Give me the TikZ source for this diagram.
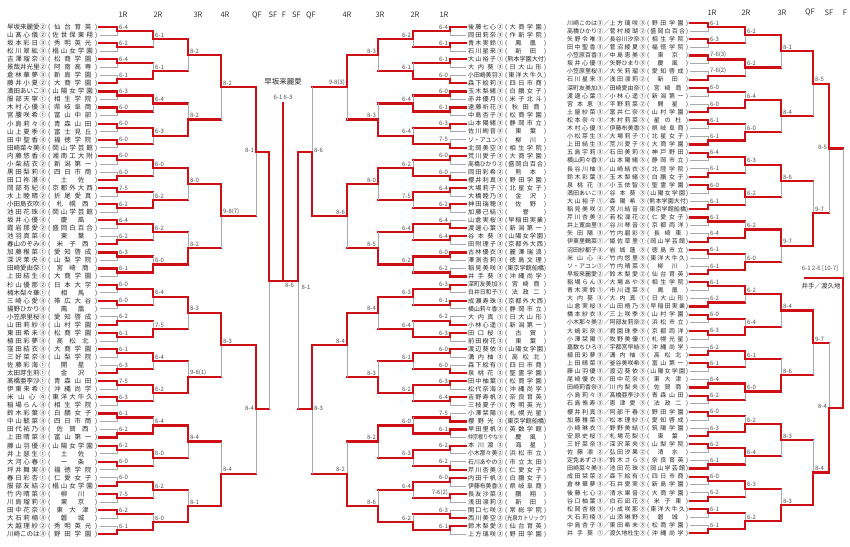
\documentclass[tikz,border=0pt]{standalone}
\usepackage{fontspec}
\usepackage{graphicx}
\setmainfont{Noto Sans CJK JP}
\definecolor{wr}{RGB}{206,16,22}
\definecolor{lg}{RGB}{170,170,170}
\definecolor{tx}{RGB}{40,40,40}
\makeatletter
\def\dist#1{\dist@a#1\relax}
\def\dist@a#1{\ifx#1\relax\else#1\expandafter\dist@b\fi}
\def\dist@b#1{\ifx#1\relax\else\hfil#1\expandafter\dist@b\fi}
\makeatother
\newsavebox\fitbx
\newcommand\fitw[2]{\sbox\fitbx{#2}\ifdim\wd\fitbx>#1\relax\resizebox{#1}{\height}{#2}\else\hbox to #1{\dist{#2}}\fi}
\tikzset{
 win/.style={draw=wr,line width=2.2pt,line cap=rect,line join=miter},
 lose/.style={draw=lg,line width=0.65pt},
 sc/.style={font=\fontsize{6}{6}\selectfont,text=black!70,inner sep=0.4pt},
 hd/.style={font=\fontsize{7.5}{8}\selectfont,text=black!80,inner sep=0},
 nmL/.style={font=\fontsize{6.5}{7}\selectfont,text=tx,inner sep=0,anchor=base west},
 nmM/.style={font=\fontsize{6.2}{7}\selectfont,text=tx,inner sep=0,anchor=base west},
 nmR/.style={font=\fontsize{6}{7}\selectfont,text=tx,inner sep=0,anchor=base west},
}
% first round: #1 prefix, #2 xs, #3 x1, #4 x2, #5 anchor, #6 dx, #7 list
\newcommand\blevone[7]{%
\foreach \w/\s [count=\m from 0] in {#7}{%
 \pgfmathsetmacro\ya{\Yz+2*\m*\dd}%
 \pgfmathsetmacro\yb{\ya+\dd}%
 \pgfmathsetmacro\ym{\ya+0.5*\dd}%
 \ifnum\w=0\relax
  \draw[lose] (#2,\yb) -- (#3,\yb) -- (#3,\ym);
  \draw[win] (#2,\ya) -- (#3,\ya) -- (#3,\ym) -- (#4,\ym);
 \else
  \draw[lose] (#2,\ya) -- (#3,\ya) -- (#3,\ym);
  \draw[win] (#2,\yb) -- (#3,\yb) -- (#3,\ym) -- (#4,\ym);
 \fi
 \node[sc,anchor=#5] (#1s\m) at ({#3+(#6)},{\ym-1.2}) {\s};
}}
% later rounds: #1 prefix, #2 level, #3 xL, #4 xnext, #5 anchor, #6 dx, #7 list
\newcommand\blev[7]{%
\foreach \w/\s [count=\m from 0] in {#7}{%
 \pgfmathsetmacro\ya{\Yz+(\m*2^#2+(2^(#2-1)-1)/2)*\dd}%
 \pgfmathsetmacro\yb{\ya+2^(#2-1)*\dd}%
 \pgfmathsetmacro\ym{(\ya+\yb)/2}%
 \ifnum\w=0\relax
  \draw[lose] (#3,\ym) -- (#3,\yb);
  \draw[win] (#3,\ya) -- (#3,\ym) -- (#4,\ym);
 \else
  \draw[lose] (#3,\ya) -- (#3,\ym);
  \draw[win] (#3,\yb) -- (#3,\ym) -- (#4,\ym);
 \fi
 \node[sc,anchor=#5] (#1s\m) at ({#3+(#6)},{\ym-1.2}) {\s};
}}
\newcommand\LN[3]{\node[nmL] (ln#1) at (7,{27+#1*8.05+2.4}) {\fitw{39pt}{#2}};\node[nmL] (ls#1) at (48,{27+#1*8.05+2.4}) {\fitw{49pt}{(#3)}};}
\newcommand\MN[3]{\node[nmM] (mn#1) at (468,{27+#1*8.05+2.3}) {\fitw{35pt}{#2}};\node[nmM] (ms#1) at (505,{27+#1*8.05+2.3}) {\fitw{41pt}{(#3)}};}
\newcommand\RN[4]{\node[nmR] (ra#1) at (567,{23+#1*8.1+2.2}) {\fitw{36pt}{#2}};\node[nmR] (rb#1) at (603.3,{23+#1*8.1+2.2}) {／};\node[nmR] (rc#1) at (609.5,{23+#1*8.1+2.2}) {\fitw{36pt}{#3}};\node[nmR] (rd#1) at (647,{23+#1*8.1+2.2}) {\fitw{41pt}{(#4)}};}
\begin{document}
\begin{tikzpicture}[x=1pt,y=-1pt]
\fill[white] (0,0) rectangle (850,546);
\useasboundingbox (0,0) rectangle (850,546);
% headers
\foreach \t/\x [count=\i] in {1R/123,2R/158,3R/198,4R/225,QF/257,SF/273,F/284,SF/296.5,QF/311,4R/347,3R/380,2R/415,1R/444}{\node[hd] (h\i) at (\x,15) {\t};}
\foreach \t/\x [count=\i] in {1R/712,2R/746,3R/782,QF/810,SF/829,F/845}{\node[hd] (hr\i) at (\x,12.7) {\t};}
% ===== left half of singles =====
\def\Yz{27}\def\dd{8.05}
\blevone{La}{99.5}{117}{153}{south west}{1.5}{0/6-4,0/6-2,0/6-4,1/6-1,0/6-3,0/6-0,0/6-0,0/6-0,0/6-0,1/6-0,0/7-5,0/6-2,0/6-4,1/6-2,0/6-3,0/6-1,0/6-0,0/6-0,1/6-2,0/6-1,0/6-1,1/6-3,0/7-5,0/6-3,0/6-1,1/6-2,0/6-2,0/6-0,1/6-0,0/7-5,0/6-2,1/6-1}
\blev{Lb}{2}{153}{188}{south west}{1.5}{0/6-1,1/6-1,0/6-4,0/6-3,0/6-0,1/6-2,0/6-2,1/6-0,0/6-4,1/7-5,0/6-4,0/6-2,1/6-4,0/6-0,0/6-2,1/6-0}
\blev{Lc}{3}{188}{221}{south west}{1.5}{0/8-2,1/8-2,0/8-0,1/8-2,0/8-3,1/9-8(1),0/8-4,1/8-1}
\blev{Ld}{4}{221}{256}{south west}{1.5}{0/8-2,0/9-8(7),0/8-3,1/8-4}
\blev{Le}{5}{256}{269}{east}{-1.5}{0/8-1,0/8-4}
% SF left: vertical and output
\draw[lose] (269,280.6) -- (269,409.4);
\draw[win] (269,151.8) -- (269,280.6) -- (283,280.6);
% ===== right half of singles (mirrored) =====
\blevone{Ma}{466}{450}{413}{south east}{-1.5}{0/6-4,0/6-1,0/6-1,1/6-0,0/6-0,0/6-1,0/6-3,1/7-5,0/6-0,1/6-0,0/6-4,0/6-2,1/6-4,0/6-4,0/6-0,1/6-2,0/6-3,0/6-1,1/6-2,0/6-3,0/6-0,1/6-0,0/6-3,0/6-4,1/7-5,0/6-1,0/6-2,1/6-2,0/6-0,0/7-6(2),1/6-3,0/6-1}
\blev{Mb}{2}{413}{378}{south east}{-1.5}{0/6-2,1/6-1,1/6-4,1/6-4,1/6-2,0/7-5,0/6-4,0/6-2,0/6-3,1/6-4,0/6-1,0/6-2,1/6-0,0/6-3,0/6-4,1/6-2}
\blev{Mc}{3}{378}{347}{south east}{-1.5}{0/8-3,1/8-3,0/8-0,1/8-5,0/8-4,1/8-3,0/8-2,1/8-6}
\blev{Md}{4}{347}{312}{south east}{-1.5}{0/9-8(3),0/8-6,0/8-4,1/8-2}
\blev{Me}{5}{312}{298}{west}{1.5}{1/8-6,0/8-3}
% SF middle
\draw[lose] (298,280.6) -- (298,409.4);
\draw[win] (298,151.8) -- (298,280.6) -- (283,280.6);
\node[sc] (sfL) at (289.5,285) {8-6};
\node[sc] (sfM) at (306,287) {8-1};
% final of singles
\draw[win] (283,280.6) -- (283,103);
\node[font=\fontsize{7.5}{8}\selectfont,text=tx,inner sep=0] (champ) at (283,82) {早坂来麗愛};
\node[sc] (champsc) at (283,97) {6-1 6-3};
% ===== doubles =====
\def\Yz{23}\def\dd{8.1}
\blevone{Ra}{690}{708}{745}{south west}{1.5}{0/6-1,0/6-3,0/7-6(3),1/7-6(2),0/6-0,1/6-0,0/6-1,1/6-1,0/6-4,1/6-1,0/6-0,1/6-1,0/6-1,1/6-4,0/6-1,1/6-1,0/6-1,1/6-2,0/6-0,0/6-3,1/6-2,0/6-1,1/6-4,0/6-2,0/6-0,1/6-3,0/6-2,1/6-1,0/6-0,1/6-2,0/6-1,1/6-1}
\blev{Rb}{2}{745}{781}{south west}{1.5}{0/6-2,0/6-2,1/6-4,1/6-0,0/6-3,0/6-2,1/6-2,1/6-0,0/6-2,1/6-4,0/6-1,0/6-0,1/6-2,0/6-4,0/6-3,1/6-2}
\blev{Rc}{3}{781}{813}{south west}{1.5}{0/8-1,0/8-4,0/8-6,0/9-7,0/8-4,1/8-6,0/8-3,1/8-3}
\blev{Rd}{4}{813}{829}{south west}{1.5}{0/8-5,1/9-7,0/9-7,1/8-4}
\blev{Re}{5}{829}{843}{east}{-1.5}{0/8-5,1/8-4}
\draw[lose] (843,148.55) -- (843,278.15);
\draw[win] (843,407.75) -- (843,278.15) -- (805,278.15);
\node[sc] (dchsc) at (820,268.5) {6-1 2-6 [10-7]};
\node[font=\fontsize{6.5}{7}\selectfont,text=tx,inner sep=0] (dch) at (821,286) {井手／渡久地};
% ===== names, left =====
\LN{0}{早坂来麗愛②}{仙台育英}
\LN{1}{山髙心儀②}{佐世保東翔}
\LN{2}{坂本彩日③}{秀明英光}
\LN{3}{松川翠紘③}{椙山女学園}
\LN{4}{吉澤瑠奈③}{松商学園}
\LN{5}{景哉井光里②}{阿南高専}
\LN{6}{倉林華夢③}{新島学園}
\LN{7}{藤井小夏②}{大商学園}
\LN{8}{満田あいこ③}{山陽女学園}
\LN{9}{服部天寧①}{相生学院}
\LN{10}{木村心優③}{県岐阜商}
\LN{11}{宮腰咲希①}{富山中部}
\LN{12}{小島莉々③}{青森山田}
\LN{13}{山上夏季③}{富士見丘}
\LN{14}{田中聖香③}{福徳学院}
\LN{15}{田崎菜々美③}{岡山学芸館}
\LN{16}{内藤悠香③}{湘南工大附}
\LN{17}{小柴結衣②}{新潟第一}
\LN{18}{黒田梨莉③}{四日市商}
\LN{19}{田口祢湛③}{土佐}
\LN{20}{岡部有紀③}{京都外大西}
\LN{21}{水上睦晴②}{折尾愛真}
\LN{22}{小田島衣吹③}{札幌西}
\LN{23}{池田花珠③}{岡山学芸館}
\LN{24}{坂井心優③}{慶風}
\LN{25}{霞岩那愛②}{盛岡白百合}
\LN{26}{池羽真菜③}{東葉}
\LN{27}{春山のぞみ③}{米子西}
\LN{28}{加藤稚菜①}{愛知啓成}
\LN{29}{深沢茉央③}{山梨学院}
\LN{30}{田崎愛由奈①}{宮崎商}
\LN{31}{上田結生③}{大商学園}
\LN{32}{杉山優那②}{日本大学}
\LN{33}{楠木梨々華①}{相馬}
\LN{34}{三崎心愛③}{帯広大谷}
\LN{35}{揚野ひかり③}{鳳凰}
\LN{36}{小笠原里桜③}{愛知啓成}
\LN{37}{山田莉紗③}{山村学園}
\LN{38}{東田希未③}{松商学園}
\LN{39}{植田彩夢③}{高松北}
\LN{40}{窪田結衣③}{大商学園}
\LN{41}{三好菜奈③}{山梨学院}
\LN{42}{佐藤彩海①}{開星}
\LN{43}{太田芽生莉①}{金沢}
\LN{44}{髙橋亜李沙①}{青森山田}
\LN{45}{伊東来希①}{沖縄尚学}
\LN{46}{米山心④}{東洋大牛久}
\LN{47}{稲場らん③}{相生学院}
\LN{48}{鈴木彩葉③}{白鵬女子}
\LN{49}{中山毓菜③}{四日市商}
\LN{50}{田代祐乃③}{佐賀西}
\LN{51}{上田晴菜③}{富山第一}
\LN{52}{藤山羽優③}{山陽女学園}
\LN{53}{井上瑟生①}{土佐}
\LN{54}{大河心春①}{一条}
\LN{55}{坪井舞実③}{福徳学院}
\LN{56}{春日彩杏①}{仁愛女子}
\LN{57}{服部友結②}{椙山女学園}
\LN{58}{竹内晴菜③}{柳川}
\LN{59}{川島瑠莉③}{東京}
\LN{60}{田中花奈③}{東大津}
\LN{61}{大石莉楠③}{磐城}
\LN{62}{大越理紗②}{秀明英光}
\LN{63}{川崎このは③}{野田学園}
% ===== names, middle =====
\MN{0}{後藤七心②}{大商学園}
\MN{1}{岡田莉奈③}{作新学院}
\MN{2}{青木実鈴①}{鳳凰}
\MN{3}{石川星来③}{新田}
\MN{4}{大山裕子①}{熊本学園大付}
\MN{5}{大内葵③}{日大山形}
\MN{6}{小田嶋美羽③}{東洋大牛久}
\MN{7}{森下絵莉③}{四日市商}
\MN{8}{玉木梨緒③}{白鵬女子}
\MN{9}{赤井優月①}{米子北斗}
\MN{10}{遠藤祈花③}{秋田商}
\MN{11}{中島杏子③}{松商学園}
\MN{12}{山本陽緒③}{静岡市立}
\MN{13}{佐川絢音③}{東葉}
\MN{14}{ソ・アユン①}{柳川}
\MN{15}{北岡美空③}{相生学院}
\MN{16}{荒川愛子③}{大商学園}
\MN{17}{高橋ひかり②}{盛岡白百合}
\MN{18}{岡田彩希②}{熊本}
\MN{19}{櫻井利真③}{野田学園}
\MN{20}{大場莉子①}{北星女子}
\MN{21}{大橋睦乃③}{金沢}
\MN{22}{神田瑞穂③}{佐野}
\MN{23}{加藤己結①}{誉}
\MN{24}{山倉実桜③}{早稲田実業}
\MN{25}{渡邊心葉①}{新潟第一}
\MN{26}{谷本葵③}{山陽女学園}
\MN{27}{田附理子③}{京都外大西}
\MN{28}{古林優衣③}{麗澤瑞浪}
\MN{29}{澤渕杏莉③}{徳島文理}
\MN{30}{稲見美咲③}{東京学館船橋}
\MN{31}{井手葵③}{沖縄尚学}
\MN{32}{深町友美加③}{宮崎商}
\MN{33}{白井日和子①}{法政二}
\MN{34}{成瀬寿珠③}{京都外大西}
\MN{35}{横山莉々香③}{静岡市立}
\MN{36}{大内真①}{日大山形}
\MN{37}{小林心遥①}{新潟第一}
\MN{38}{田口桜③}{古賀}
\MN{39}{前田樹花③}{東葉}
\MN{40}{渡辺葵依③}{山陽女学園}
\MN{41}{溝内柚③}{高松北}
\MN{42}{森下絵有①}{四日市商}
\MN{43}{泉桃花③}{聖霊学園}
\MN{44}{田中柚葉①}{松商学園}
\MN{45}{松代奈海②}{沖縄尚学}
\MN{46}{吉野寿帆②}{奈良育英}
\MN{47}{三枝夏子①}{秀明英光}
\MN{48}{小澤栞陽①}{札幌光星}
\MN{49}{櫻野光③}{東京学館船橋}
\MN{50}{早田里帆②}{英数学館}
\MN{51}{仲宗根りやな③}{慶風}
\MN{52}{本川渡③}{海星}
\MN{53}{小木那々美②}{浜松市立}
\MN{54}{石川あやの②}{市立太田}
\MN{55}{芹川杏美②}{仁愛女子}
\MN{56}{内田千帆②}{白鵬女子}
\MN{57}{伊藤布美香③}{県岐阜商}
\MN{58}{長友沙菜③}{鵬翔}
\MN{59}{浅田凛莉②}{新田}
\MN{60}{関口七咲②}{常総学院}
\MN{61}{西川美空②}{光泉カトリック}
\MN{62}{鈴木梨愛②}{仙台育英}
\MN{63}{上方璃咲③}{野田学園}
% ===== names, doubles =====
\RN{0}{川崎このは③}{上方璃咲③}{野田学園}
\RN{1}{高橋ひかり②}{菅村綾瑚②}{盛岡白百合}
\RN{2}{矢野令唯③}{長谷川汐奈③}{相生学院}
\RN{3}{田中聖香③}{菅沼綾夏③}{福徳学院}
\RN{4}{小笠原百香③}{中島恵美③}{東京}
\RN{5}{坂井心優③}{矢野ひまり③}{慶風}
\RN{6}{小笠原里桜③}{大矢莉瑠③}{愛知啓成}
\RN{7}{石川星来③}{浅田凛莉②}{新田}
\RN{8}{深町友美加③}{田崎愛由奈①}{宮崎商}
\RN{9}{渡邊心葉①}{小林心遥①}{新潟第一}
\RN{10}{宮本恵③}{平野莉菜②}{開星}
\RN{11}{土屋紗菜③}{富井仁奈③}{山村学園}
\RN{12}{松本奈々③}{木村莉菜③}{星の杜}
\RN{13}{木村心優③}{伊藤布美香③}{県岐阜商}
\RN{14}{小松芽生③}{大場莉子①}{北星女子}
\RN{15}{上田結生③}{荒川愛子③}{大商学園}
\RN{16}{五島宇莉③}{石田美莉③}{神戸野田}
\RN{17}{横山莉々香③}{山本陽緒③}{静岡市立}
\RN{18}{長谷川柚③}{山崎結衣③}{北陸学院}
\RN{19}{鈴木彩葉③}{玉木梨緒③}{白鵬女子}
\RN{20}{泉桃花③}{小玉依智③}{聖霊学園}
\RN{21}{満田あいこ③}{谷本葵③}{山陽女学園}
\RN{22}{大山裕子①}{森陽希③}{熊本学園大付}
\RN{23}{稲見美咲②}{宮川結音②}{東京学館船橋}
\RN{24}{芹川杏美②}{若松凜花②}{仁愛女子}
\RN{25}{井上寛由里③}{谷川琴音③}{京都両洋}
\RN{26}{矢田陽③}{竹内碧彩③}{長崎東}
\RN{27}{伊東里鶴菜①}{姫佐草里①}{岡山学芸館}
\RN{28}{沼田紗都子③}{岩城蓮③}{徳島市立}
\RN{29}{米山心④}{竹内悠里③}{東洋大牛久}
\RN{30}{ソ・アユン①}{竹内晴菜③}{柳川}
\RN{31}{早坂来麗愛②}{鈴木梨愛②}{仙台育英}
\RN{32}{稲場らん③}{大場あや③}{相生学院}
\RN{33}{青木実鈴①}{市川遥菜③}{鳳凰}
\RN{34}{大内葵③}{大内真①}{日大山形}
\RN{35}{山倉実桜③}{山田梧乃③}{早稲田実業}
\RN{36}{橋本紗衣③}{三上咲季③}{山村学園}
\RN{37}{小木那々美②}{阿部友莉奈②}{浜松市立}
\RN{38}{大嶋彩奈③}{君園珠季③}{京都両洋}
\RN{39}{小澤栞陽①}{牧野美優①}{札幌光星}
\RN{40}{嘉数ちひろ③}{宇都宮早結③}{沖縄尚学}
\RN{41}{植田彩夢③}{溝内柚③}{高松北}
\RN{42}{上田晴菜③}{釜谷美咲希③}{富山第一}
\RN{43}{藤山羽優③}{渡辺葵依③}{山陽女学園}
\RN{44}{尾崎優衣③}{田中花奈③}{東大津}
\RN{45}{田崎莉香奈③}{川内梨央③}{佐賀商}
\RN{46}{小島莉々③}{髙橋亜李沙③}{青森山田}
\RN{47}{石島侑寿③}{恵津愛③}{法政二}
\RN{48}{櫻井利真③}{阿部千春③}{野田学園}
\RN{49}{加藤稚菜①}{松本理紗①}{愛知啓成}
\RN{50}{小崎琳衣①}{野野美結①}{筑陽学園}
\RN{51}{安原史桜①}{札場花梨①}{東葉}
\RN{52}{三好菜奈③}{深沢茉央③}{山梨学院}
\RN{53}{佐藤凛②}{弘田汐果②}{清水}
\RN{54}{定免あずさ③}{鈴木さら③}{奈良育英}
\RN{55}{田崎菜々美③}{池田花珠③}{岡山学芸館}
\RN{56}{成田栞菜②}{森下絵有①}{四日市商}
\RN{57}{倉林華夢③}{石井愛実③}{新島学園}
\RN{58}{後藤七心②}{清水果音②}{大商学園}
\RN{59}{谷口柚葉③}{白石凪花③}{米子東}
\RN{60}{松岡杏樹③}{小成咲那③}{東洋大牛久}
\RN{61}{大石莉楠③}{山添琳野③}{磐城}
\RN{62}{中島杏子③}{東田希未③}{松商学園}
\RN{63}{井手葵①}{渡久地杜生③}{沖縄尚学}
\end{tikzpicture}
\end{document}
